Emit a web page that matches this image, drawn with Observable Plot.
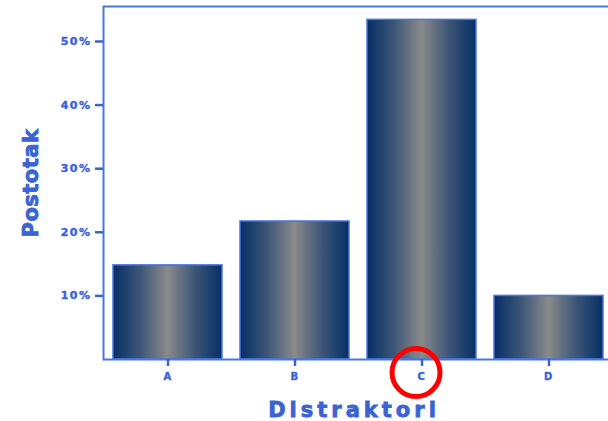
<!DOCTYPE html>
<html>
<head>
<meta charset="utf-8">
<script src="https://cdn.jsdelivr.net/npm/d3@7"></script>
<script src="https://cdn.jsdelivr.net/npm/@observablehq/plot@0.6"></script>
<style>
  html, body { margin: 0; padding: 0; background: #fff; overflow: hidden; }
  #chart { width: 608px; height: 421px; overflow: hidden; }
  #chart svg { max-width: none !important; }
</style>
</head>
<body>
<div id="chart"></div>
<script>
const categories = ["A", "B", "C", "D"];
const values = [14.8, 21.7, 53.4, 10.0];
const yTicks = [10, 20, 30, 40, 50];
const yLabel = "Postotak";
const xLabel = "Distraktori";
const highlighted = ["C"];

const data = categories.map((c, i) => ({cat: c, val: values[i]}));
const blue = "#3a64d4";

const chart = Plot.plot({
  width: 614,
  height: 421,
  marginLeft: 103,
  marginRight: 0,
  marginTop: 6,
  marginBottom: 62,
  style: {fontFamily: "DejaVu Sans, Verdana, sans-serif", background: "#fff", color: blue, maxWidth: "none"},
  x: {domain: categories, paddingInner: 0.139, paddingOuter: 0.07},
  y: {domain: [0, 55.5]},
  marks: [
    Plot.barY(data, {x: "cat", y: "val", fill: "url(#barGrad)", stroke: "#4a76e0", strokeWidth: 1.5}),
    Plot.frame({stroke: "#4a76e0", strokeWidth: 2}),
    Plot.axisY({ticks: yTicks, tickFormat: d => d + "%", tickSize: 8, tickPadding: 4, strokeWidth: 2.5, stroke: blue, fill: blue, fontSize: 11, fontWeight: 900, label: null}),
    Plot.axisX({tickSize: 7, tickPadding: 6, strokeWidth: 2.5, stroke: blue, fill: blue, fontSize: 10, fontWeight: 900, label: null}),
    Plot.text([yLabel], {frameAnchor: "left", textAnchor: "middle", text: d => d, rotate: -90, dx: -72, fontSize: 21, fontWeight: 900, fill: blue}),
    Plot.text([xLabel], {frameAnchor: "bottom", textAnchor: "middle", text: d => d, dx: -5, dy: 57, fontSize: 21, fontWeight: 900, fill: blue}),
    Plot.dot(highlighted, {x: d => d, frameAnchor: "bottom", dx: -6, dy: 13, r: 24, stroke: "#ff0000", strokeWidth: 5, fill: "none"})
  ]
});

const svg = d3.select(chart);
const defs = svg.insert("defs", ":first-child");
const g = defs.append("linearGradient").attr("id", "barGrad").attr("x1", "0%").attr("x2", "100%").attr("y1", "0%").attr("y2", "0%");
g.append("stop").attr("offset", "0%").attr("stop-color", "#062f66");
g.append("stop").attr("offset", "25%").attr("stop-color", "#3d5677");
g.append("stop").attr("offset", "50%").attr("stop-color", "#8a8a8a");
g.append("stop").attr("offset", "75%").attr("stop-color", "#3d5677");
g.append("stop").attr("offset", "100%").attr("stop-color", "#062f66");

svg.selectAll("[aria-label='y-axis tick label'] text, [aria-label='x-axis tick label'] text")
  .style("letter-spacing", "1.5px").attr("stroke", blue).attr("stroke-width", 0.4);
const labels = svg.selectAll("[aria-label='text'] text").attr("stroke", blue).attr("stroke-width", 0.8);
labels.filter(function() { return this.textContent === xLabel; }).style("letter-spacing", "4px");
labels.filter(function() { return this.textContent === yLabel; }).style("letter-spacing", "0.5px");

document.getElementById("chart").appendChild(chart);
</script>
</body>
</html>
